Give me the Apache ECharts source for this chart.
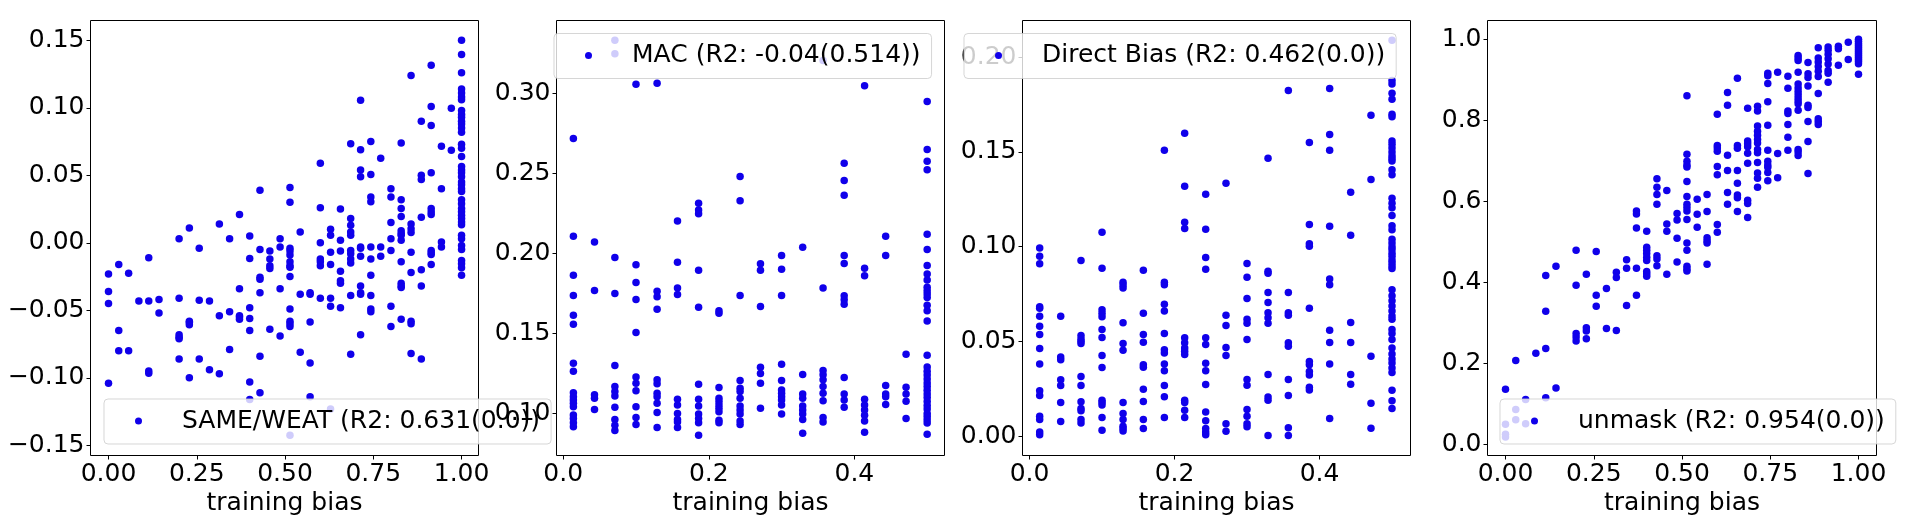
<!DOCTYPE html>
<html>
<head>
<meta charset="utf-8">
<title>training bias</title>
<style>
  html, body { margin: 0; padding: 0; background: #fff; }
  #chart { width: 1916px; height: 527px; }
</style>
<script src="https://cdn.jsdelivr.net/npm/echarts@6/dist/echarts.min.js"></script>
</head>
<body>
<div id="chart"></div>
<script>
// training bias columns, the scores of each column are listed in the same order below
var fullBias = [0, 0.029, 0.057, 0.086, 0.114, 0.143, 0.171, 0.2, 0.229, 0.257, 0.286, 0.314, 0.343, 0.371, 0.4, 0.429, 0.457, 0.486,
  0.514, 0.543, 0.571, 0.6, 0.629, 0.657, 0.686, 0.714, 0.743, 0.771, 0.8, 0.829, 0.857, 0.886, 0.914, 0.943, 0.971, 1];
var halfBias = [0.014, 0.043, 0.071, 0.1, 0.129, 0.157, 0.186, 0.214, 0.243, 0.271, 0.3, 0.329, 0.357, 0.386, 0.414, 0.443, 0.471, 0.5];

var sameScores = [
  [-0.023, -0.036, -0.045, -0.104],
  [-0.016, -0.065, -0.08],
  [-0.0225, -0.08],
  [-0.043],
  [-0.011, -0.043, -0.095, -0.0965],
  [-0.042, -0.052],
  [],
  [0.003, -0.041, -0.068, -0.07, -0.071, -0.086],
  [0.011, -0.058, -0.059, -0.0606, -0.1],
  [-0.004, -0.0425, -0.086],
  [-0.043, -0.094],
  [0.014, -0.054, -0.097],
  [0.003, -0.051, -0.079],
  [0.021, -0.034, -0.054, -0.055, -0.0566],
  [0.005, -0.0116, -0.048, -0.056, -0.065, -0.103, -0.116],
  [0.039, -0.005, -0.0255, -0.027, -0.037, -0.084, -0.111],
  [-0.006, -0.012, -0.017, -0.019, -0.064],
  [0.003, -0.003, -0.034, -0.069],
  [0.041, 0.03, -0.004, -0.006, -0.009, -0.014, -0.017, -0.018, -0.025, -0.049, -0.058, -0.06, -0.062, -0.1425],
  [0.008, -0.038, -0.081],
  [-0.037, -0.038, -0.0586, -0.089, -0.114],
  [0.059, 0.026, 0, -0.012, -0.014, -0.017, -0.041],
  [0.01, 0.0056, -0.007, -0.016, -0.041, -0.047, -0.123],
  [0.025, 0.002, -0.006, -0.021, -0.028, -0.03, -0.048],
  [0.0735, 0.018, 0.013, 0.008, 0.0056, -0.0056, -0.008, -0.012, -0.015, -0.039, -0.0825],
  [0.1057, 0.069, 0.054, 0.049, -0.003, -0.004, -0.01, -0.032, -0.037, -0.038, -0.068],
  [0.075, 0.0507, 0.034, 0.0305, -0.003, -0.012, -0.024, -0.039, -0.049, -0.051],
  [0.0626, -0.003, -0.01],
  [0.04, 0.034, 0.015, 0.003, -0.0056, -0.047, -0.062],
  [0.074, 0.032, 0.0255, 0.0195, 0.009, 0.007, 0.0056, 0.002, -0.014, -0.03, -0.032, -0.033, -0.0566],
  [0.124, 0.014, 0.0105, 0.0076, -0.007, -0.022, -0.058, -0.06, -0.082],
  [0.09, 0.05, 0.047, 0.019, -0.02, -0.032, -0.086],
  [0.1316, 0.101, 0.087, 0.052, 0.0255, 0.023, 0.021, -0.0056, -0.0073, -0.0086, -0.016],
  [0.0716, 0.04, 0.0006, -0.003],
  [0.0997, 0.0686],
  [0.15, 0.1395, 0.126, 0.114, 0.111, 0.108, 0.106, 0.098, 0.095, 0.093, 0.09, 0.088, 0.085, 0.082, 0.073, 0.07, 0.064, 0.0566, 0.054, 0.052, 0.049,
    0.045, 0.043, 0.04, 0.038, 0.032, 0.029, 0.0255, 0.023, 0.0205, 0.018, 0.0155, 0.0135, 0.0056, 0.003, -0.002, -0.005, -0.013, -0.0155, -0.0185, -0.024]
];

var macScores = [
  [0.2718, 0.2107, 0.1863, 0.1737, 0.1613, 0.1557, 0.1313, 0.1263, 0.113, 0.1105, 0.1084, 0.1063, 0.1042, 0.099, 0.0968, 0.0941, 0.0916],
  [0.2071, 0.1769, 0.1116, 0.1095, 0.1025],
  [0.3332, 0.3248, 0.1975, 0.175, 0.13, 0.1168, 0.1137, 0.1109, 0.1038, 0.0962, 0.0926, 0.0893],
  [0.3057, 0.1929, 0.1819, 0.1712, 0.1506, 0.1227, 0.1189, 0.1141, 0.1042, 0.0975, 0.0931],
  [0.3063, 0.1763, 0.1729, 0.1651, 0.121, 0.1185, 0.1126, 0.1105, 0.1063, 0.1006, 0.0912],
  [0.2202, 0.1945, 0.1784, 0.1744, 0.1088, 0.1053, 0.1, 0.0962, 0.0947, 0.0912],
  [0.2313, 0.2271, 0.2248, 0.1895, 0.1664, 0.1183, 0.1088, 0.1046, 0.0996, 0.0968, 0.0941, 0.0863],
  [0.1641, 0.1626, 0.1162, 0.1095, 0.1074, 0.1053, 0.1032, 0.101, 0.0958, 0.0941],
  [0.2481, 0.233, 0.1737, 0.1206, 0.1158, 0.1137, 0.1095, 0.1046, 0.1021, 0.0996, 0.0952, 0.0931],
  [0.1935, 0.1895, 0.1668, 0.1288, 0.125, 0.1189, 0.1032],
  [0.1987, 0.1901, 0.1737, 0.1307, 0.1206, 0.1147, 0.1126, 0.1105, 0.1084, 0.1053, 0.0996],
  [0.2038, 0.1244, 0.1122, 0.1095, 0.1046, 0.1021, 0.0996, 0.0962, 0.0876],
  [0.3206, 0.1784, 0.1269, 0.1242, 0.121, 0.1168, 0.1126, 0.108, 0.0975, 0.0947],
  [0.2563, 0.2456, 0.2363, 0.1987, 0.1937, 0.1735, 0.171, 0.1683, 0.1225, 0.1122, 0.1084, 0.1038],
  [0.3048, 0.1908, 0.1861, 0.1088, 0.1053, 0.1021, 0.0989, 0.0952, 0.0882],
  [0.2107, 0.1987, 0.1174, 0.1122, 0.1105, 0.1055],
  [0.137, 0.1164, 0.1122, 0.1076, 0.0968],
  [0.295, 0.2649, 0.2576, 0.2523, 0.212, 0.2025, 0.1924, 0.1872, 0.1834, 0.1788, 0.1767, 0.1746, 0.1725, 0.1676, 0.1641, 0.1578, 0.1363, 0.129,
    0.1263, 0.124, 0.1215, 0.119, 0.1168, 0.1145, 0.1122, 0.11, 0.1075, 0.105, 0.1028, 0.1, 0.098, 0.096, 0.094, 0.087]
];

var directScores = [
  [0.0993, 0.095, 0.091, 0.0684, 0.0676, 0.0633, 0.058, 0.0537, 0.0463, 0.0381, 0.0241, 0.0216, 0.0106, 0.0089, 0.0023, 0.0009],
  [0.0633, 0.0418, 0.0404, 0.0298, 0.0268, 0.0179, 0.0078],
  [0.0927, 0.0532, 0.0514, 0.0502, 0.0489, 0.0316, 0.0268, 0.0183, 0.0147, 0.0135, 0.0089, 0.0071],
  [0.1076, 0.0887, 0.0667, 0.0649, 0.0631, 0.0564, 0.0521, 0.0427, 0.0363, 0.0191, 0.0179, 0.0165, 0.0099, 0.0032],
  [0.0812, 0.0798, 0.0782, 0.0599, 0.0489, 0.0454, 0.0179, 0.0121, 0.0089, 0.0053, 0.0041, 0.0028],
  [0.0876, 0.0649, 0.0537, 0.0496, 0.0378, 0.0365, 0.0248, 0.0184, 0.0089, 0.0041],
  [0.1509, 0.0812, 0.08, 0.0697, 0.0661, 0.0543, 0.0457, 0.044, 0.0381, 0.0346, 0.0268, 0.0209, 0.0099],
  [0.1598, 0.1319, 0.1129, 0.1096, 0.052, 0.0493, 0.0466, 0.0449, 0.0431, 0.0191, 0.0179, 0.0138, 0.0099],
  [0.1277, 0.1092, 0.0943, 0.0881, 0.052, 0.0484, 0.0385, 0.0346, 0.0273, 0.0129, 0.0082, 0.0041, 0.0023, 0.0009],
  [0.1335, 0.0638, 0.0585, 0.0468, 0.0427, 0.0067, 0.0027],
  [0.0911, 0.0839, 0.0727, 0.0617, 0.0596, 0.0511, 0.03, 0.027, 0.0142, 0.0106, 0.0067, 0.005],
  [0.1466, 0.0871, 0.086, 0.0759, 0.0706, 0.0652, 0.0626, 0.0596, 0.0326, 0.0207, 0.0191, 0.0005],
  [0.1824, 0.0759, 0.0652, 0.0638, 0.0493, 0.0475, 0.03, 0.0216, 0.0046, 0.0005],
  [0.155, 0.1117, 0.1016, 0.1002, 0.0676, 0.0395, 0.0378, 0.0342, 0.0324, 0.0259, 0.0245],
  [0.1835, 0.1592, 0.1509, 0.1108, 0.083, 0.08, 0.0559, 0.0495, 0.0381, 0.0094],
  [0.1287, 0.106, 0.0601, 0.0495, 0.0326, 0.0275],
  [0.1693, 0.1355, 0.0422, 0.0174, 0.0043],
  [0.2089, 0.1876, 0.1858, 0.1809, 0.1778, 0.1699, 0.1686, 0.1557, 0.154, 0.152, 0.15, 0.148, 0.1465, 0.1452, 0.1406, 0.1379, 0.1255, 0.1229, 0.1206, 0.1165,
    0.111, 0.109, 0.1039, 0.102, 0.1, 0.0985, 0.0965, 0.095, 0.093, 0.0915, 0.09, 0.0885, 0.0773, 0.0741, 0.0715, 0.0688, 0.0661, 0.0635, 0.0617,
    0.0564, 0.0543, 0.0511, 0.0466, 0.0434, 0.0408, 0.0387, 0.036, 0.0337, 0.0243, 0.0188, 0.0147]
];

var unmaskScores = [
  [0.136, 0.05, 0.025, 0.018],
  [0.207, 0.086, 0.061],
  [0.111, 0.051],
  [0.225],
  [0.417, 0.329, 0.237, 0.115],
  [0.44, 0.139],
  [],
  [0.479, 0.393, 0.274, 0.265, 0.255],
  [0.42, 0.288, 0.28, 0.261],
  [0.476, 0.368, 0.341],
  [0.385, 0.286],
  [0.425, 0.412, 0.281],
  [0.456, 0.435, 0.343],
  [0.576, 0.569, 0.534, 0.435, 0.368],
  [0.526, 0.487, 0.479, 0.471, 0.462, 0.454, 0.427, 0.421, 0.415],
  [0.656, 0.635, 0.617, 0.593, 0.466, 0.458, 0.441],
  [0.627, 0.544, 0.526, 0.42],
  [0.57, 0.554, 0.509, 0.45],
  [0.861, 0.716, 0.699, 0.69, 0.685, 0.649, 0.612, 0.593, 0.585, 0.576, 0.555, 0.497, 0.479, 0.44, 0.433, 0.428],
  [0.605, 0.568, 0.536],
  [0.617, 0.575, 0.51, 0.503, 0.497, 0.445],
  [0.815, 0.738, 0.732, 0.724, 0.686, 0.666, 0.543, 0.524],
  [0.869, 0.837, 0.714, 0.676, 0.622, 0.593],
  [0.904, 0.738, 0.731, 0.676, 0.645, 0.616, 0.609, 0.575],
  [0.83, 0.749, 0.742, 0.735, 0.719, 0.694, 0.603, 0.595, 0.56],
  [0.835, 0.823, 0.786, 0.773, 0.763, 0.753, 0.744, 0.728, 0.72, 0.696, 0.67, 0.657, 0.635],
  [0.916, 0.91, 0.891, 0.846, 0.788, 0.726, 0.699, 0.69, 0.684, 0.671, 0.651],
  [0.919, 0.718, 0.658],
  [0.909, 0.879, 0.823, 0.817, 0.79, 0.758, 0.726],
  [0.96, 0.954, 0.948, 0.919, 0.89, 0.88, 0.871, 0.863, 0.855, 0.848, 0.841, 0.825, 0.728, 0.722, 0.713],
  [0.943, 0.915, 0.906, 0.885, 0.837, 0.832, 0.797, 0.748, 0.669],
  [0.979, 0.954, 0.944, 0.933, 0.921, 0.908, 0.866, 0.804, 0.797, 0.79],
  [0.981, 0.973, 0.963, 0.952, 0.939, 0.923, 0.916, 0.894],
  [0.983, 0.977, 0.936],
  [0.993, 0.95],
  [1, 0.995, 0.99, 0.985, 0.98, 0.975, 0.97, 0.965, 0.96, 0.955, 0.95, 0.945, 0.94, 0.914]
];

var seriesNames = ['SAME/WEAT (R2: 0.631(0.0))', 'MAC (R2: -0.04(0.514))', 'Direct Bias (R2: 0.462(0.0))', 'unmask (R2: 0.954(0.0))'];
var fullTicks = [0, 0.25, 0.5, 0.75, 1];
var halfTicks = [0, 0.2, 0.4];
var sameTicks = [-0.15, -0.1, -0.05, 0, 0.05, 0.1, 0.15];
var macTicks = [0.1, 0.15, 0.2, 0.25, 0.3];
var directTicks = [0, 0.05, 0.1, 0.15, 0.2];
var unmaskTicks = [0, 0.2, 0.4, 0.6, 0.8, 1];

var FONT = '"DejaVu Sans"';
var BLUE = '#1000ea';

function toPoints(xs, columns) {
  var pts = [];
  columns.forEach(function (col, i) {
    col.forEach(function (v) { pts.push([xs[i], v]); });
  });
  return pts;
}

// one entry per subplot, pixel boxes
var panels = [
  {left: 90.5, width: 388, xMin: -0.051, xMax: 1.048, yMin: -0.1575, yMax: 0.1647, xs: fullBias, ys: sameScores, xTicks: fullTicks, xDigits: 2, yTicks: sameTicks, yDigits: 2, legendLeft: 104, legendTop: 399},
  {left: 556.5, width: 388, xMin: -0.0092, xMax: 0.5238, yMin: 0.0737, yMax: 0.3456, xs: halfBias, ys: macScores, xTicks: halfTicks, xDigits: 1, yTicks: macTicks, yDigits: 2, legendLeft: 554, legendTop: 33.5, yZ: 5},
  {left: 1022.5, width: 388, xMin: -0.0097, xMax: 0.5255, yMin: -0.0101, yMax: 0.2193, xs: halfBias, ys: directScores, xTicks: halfTicks, xDigits: 1, yTicks: directTicks, yDigits: 2, legendLeft: 964, legendTop: 33.5, legendZ: 6},
  {left: 1487.5, width: 389, xMin: -0.051, xMax: 1.051, yMin: -0.0274, yMax: 1.0465, xs: fullBias, ys: unmaskScores, xTicks: fullTicks, xDigits: 2, yTicks: unmaskTicks, yDigits: 1, legendLeft: 1500, legendTop: 399}
];

function axisCommon(ticks, digits) {
  return {
    type: 'value',
    splitLine: {show: false},
    axisLine: {show: false, onZero: false},
    axisTick: {show: true, length: 4, inside: false, customValues: ticks, lineStyle: {color: '#000', width: 1}},
    axisLabel: {
      show: true,
      customValues: ticks,
      color: '#000',
      fontFamily: FONT,
      fontSize: 25,
      margin: 6,
      formatter: function (v) { return v.toFixed(digits).replace('-', '\u2212'); }
    }
  };
}

var grids = [], xAxes = [], yAxes = [], seriesList = [], legends = [];
panels.forEach(function (p, i) {
  grids.push({show: true, left: p.left, top: 20.5, width: p.width, height: 435, borderColor: '#000', borderWidth: 1, backgroundColor: 'transparent'});

  var xa = axisCommon(p.xTicks, p.xDigits);
  xa.gridIndex = i;
  xa.min = p.xMin;
  xa.max = p.xMax;
  xa.name = 'training bias';
  xa.nameLocation = 'middle';
  xa.nameGap = 33;
  xa.nameTextStyle = {color: '#000', fontFamily: FONT, fontSize: 25};
  xAxes.push(xa);

  var ya = axisCommon(p.yTicks, p.yDigits);
  ya.gridIndex = i;
  ya.min = p.yMin;
  ya.max = p.yMax;
  if (p.yZ) ya.z = p.yZ;
  yAxes.push(ya);

  seriesList.push({
    name: seriesNames[i],
    type: 'scatter',
    xAxisIndex: i,
    yAxisIndex: i,
    symbolSize: 7.5,
    itemStyle: {color: BLUE, opacity: 1},
    data: toPoints(p.xs, p.ys)
  });

  legends.push({
    data: [seriesNames[i]],
    left: p.legendLeft,
    top: p.legendTop,
    z: p.legendZ || 4,
    orient: 'horizontal',
    icon: 'circle',
    itemWidth: 7,
    itemHeight: 7,
    itemGap: 0,
    selectedMode: false,
    padding: [9.5, 11, 10.5, 31],
    backgroundColor: 'rgba(255,255,255,0.8)',
    borderColor: 'rgba(204,204,204,0.8)',
    borderWidth: 1,
    borderRadius: 4,
    formatter: '{t|{name}}',
    textStyle: {
      color: '#000',
      fontFamily: FONT,
      fontSize: 25,
      rich: {t: {fontFamily: FONT, fontSize: 25, color: '#000', lineHeight: 30, padding: [0, 0, 0, 35]}}
    }
  });
});

var myChart = echarts.init(document.getElementById('chart'), null, {renderer: 'canvas'});
myChart.setOption({
  animation: false,
  backgroundColor: '#fff',
  tooltip: {show: false},
  grid: grids,
  xAxis: xAxes,
  yAxis: yAxes,
  legend: legends,
  series: seriesList
});
</script>
</body>
</html>
